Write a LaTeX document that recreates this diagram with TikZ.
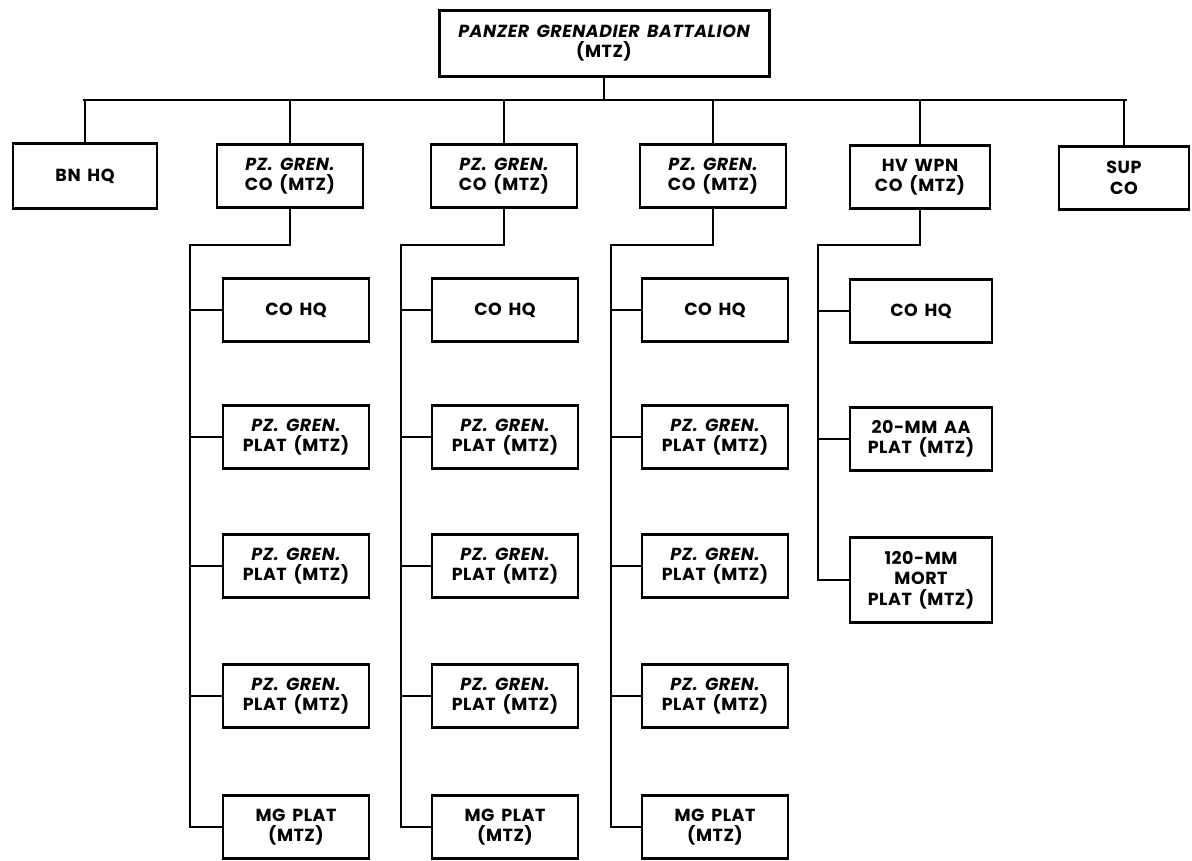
\documentclass[tikz,border=0pt]{standalone}
\usepackage{fontspec}
\newfontfamily\chartfont{Poppins}[LetterSpace=3,WordSpace=1.6]
\begin{document}
\begin{tikzpicture}[x=1pt,y=-1pt,
  box/.style={draw, line width=2.4pt, minimum width=146pt, minimum height=63pt,
    align=center, inner sep=2pt, font=\chartfont\bfseries\fontsize{17.5}{20.5}\selectfont},
  conn/.style={line width=1.9pt}]
\useasboundingbox (0,0) rectangle (1192,860);
% top
\node[box, line width=3pt, minimum width=330pt, minimum height=66pt] (top) at (604,43)
  {\itshape PANZER GRENADIER BATTALION\\(MTZ)};
% level 1
\node[box, minimum width=144pt, minimum height=65pt] (bnhq) at (85,176) {BN HQ};
\node[box] (coa) at (290,176) {{\itshape PZ. GREN.}\\CO (MTZ)};
\node[box] (cob) at (504,176) {{\itshape PZ. GREN.}\\CO (MTZ)};
\node[box] (coc) at (713,176) {{\itshape PZ. GREN.}\\CO (MTZ)};
\node[box, minimum width=140pt] (hv) at (920,177) {HV WPN\\CO (MTZ)};
\node[box, minimum width=130pt] (sup) at (1124,178) {SUP\\CO};
% bus
\coordinate (busL) at (83,100);
\coordinate (busR) at (1127,100);
\draw[conn] (busL) -- (busR);
\draw[conn] (top.south) -- (top.south |- busL);
\draw[conn] (bnhq.north) -- (bnhq.north |- busL);
\draw[conn] (coa.north) -- (coa.north |- busL);
\draw[conn] (cob.north) -- (cob.north |- busL);
\draw[conn] (coc.north) -- (coc.north |- busL);
\draw[conn] (hv.north) -- (hv.north |- busL);
\draw[conn] (sup.north) -- (sup.north |- busL);
% columns
\foreach \c/\tx/\bx in {a/190/296, b/401/505, c/611/715}{
  \node[box] (h\c) at (\bx,310) {CO HQ};
  \node[box] (p\c1) at (\bx,437) {{\itshape PZ. GREN.}\\PLAT (MTZ)};
  \node[box] (p\c2) at (\bx,566) {{\itshape PZ. GREN.}\\PLAT (MTZ)};
  \node[box] (p\c3) at (\bx,696) {{\itshape PZ. GREN.}\\PLAT (MTZ)};
  \node[box] (m\c) at (\bx,827) {MG PLAT\\(MTZ)};
  \coordinate (k\c) at (\tx,245);
  \draw[conn] (co\c.south) |- (k\c) -- (k\c |- m\c.west) -- (m\c.west);
  \draw[conn] (k\c |- h\c.west) -- (h\c.west);
  \draw[conn] (k\c |- p\c1.west) -- (p\c1.west);
  \draw[conn] (k\c |- p\c2.west) -- (p\c2.west);
  \draw[conn] (k\c |- p\c3.west) -- (p\c3.west);
}
% heavy weapons column
\node[box, minimum width=142pt] (hd) at (921,311) {CO HQ};
\node[box, minimum width=142pt] (aa) at (921,439) {20-MM AA\\PLAT (MTZ)};
\node[box, minimum width=142pt, minimum height=85pt] (mo) at (921,580) {120-MM\\MORT\\PLAT (MTZ)};
\coordinate (kd) at (818,245);
\draw[conn] (hv.south) |- (kd) -- (kd |- mo.west) -- (mo.west);
\draw[conn] (kd |- hd.west) -- (hd.west);
\draw[conn] (kd |- aa.west) -- (aa.west);
\end{tikzpicture}
\end{document}
